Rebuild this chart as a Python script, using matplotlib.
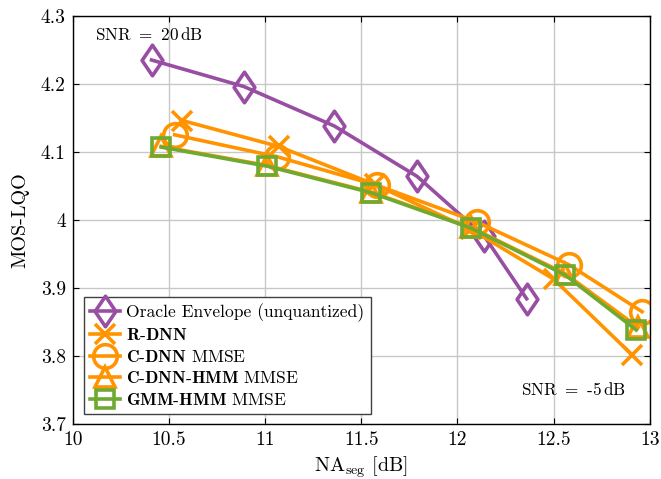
import numpy as np
import matplotlib.pyplot as plt
from matplotlib.path import Path

plt.rcParams['font.family'] = 'serif'
plt.rcParams['font.serif'] = ['cmr10']
plt.rcParams['mathtext.fontset'] = 'cm'
plt.rcParams['axes.formatter.use_mathtext'] = True

# data
oracle_x = [10.41, 10.89, 11.36, 11.79, 12.14, 12.36]
oracle_y = [4.235, 4.196, 4.138, 4.064, 3.976, 3.884]

rdnn_x = [10.57, 11.07, 11.57, 12.07, 12.50, 12.91]
rdnn_y = [4.146, 4.108, 4.052, 3.986, 3.913, 3.801]

cdnn_x = [10.53, 11.06, 11.58, 12.10, 12.58, 12.96]
cdnn_y = [4.125, 4.093, 4.051, 3.997, 3.934, 3.865]

cdnnhmm_x = [10.46, 11.01, 11.55, 12.07, 12.56, 12.94]
cdnnhmm_y = [4.108, 4.080, 4.041, 3.989, 3.921, 3.842]

gmm_x = [10.46, 11.01, 11.55, 12.07, 12.56, 12.93]
gmm_y = [4.107, 4.079, 4.040, 3.988, 3.919, 3.838]

purple = '#984ea3'
orange = '#ff9400'
green = '#6eaa30'

# pgfplots style diamond (wider than matplotlib's thin diamond)
diamond = Path([(0, 1), (0.68, 0), (0, -1), (-0.68, 0), (0, 1)],
               [Path.MOVETO, Path.LINETO, Path.LINETO, Path.LINETO, Path.CLOSEPOLY])

fig = plt.figure(figsize=(6.61, 4.79), dpi=100)
ax = fig.add_axes([0.110, 0.115, 0.873, 0.852])

lw = 2.6
ax.plot(oracle_x, oracle_y, color=purple, lw=lw, marker=diamond, ms=22, mfc='none', mew=2.6,
        label='Oracle Envelope (unquantized)')
ax.plot(rdnn_x, rdnn_y, color=orange, lw=lw, marker='x', ms=14, mew=2.6,
        label=r'$\mathbf{R}$-$\mathbf{DNN}$')
ax.plot(cdnn_x, cdnn_y, color=orange, lw=lw, marker='o', ms=17, mfc='none', mew=2.6,
        label=r'$\mathbf{C}$-$\mathbf{DNN}$ MMSE')
ax.plot(cdnnhmm_x, cdnnhmm_y, color=orange, lw=lw, marker='^', ms=14, mfc='none', mew=2.6,
        label=r'$\mathbf{C}$-$\mathbf{DNN}$-$\mathbf{HMM}$ MMSE')
ax.plot(gmm_x, gmm_y, color=green, lw=lw, marker='s', ms=13, mfc='none', mew=2.6,
        label=r'$\mathbf{GMM}$-$\mathbf{HMM}$ MMSE')

ax.set_xlim(10, 13)
ax.set_ylim(3.7, 4.3)
ax.set_xticks([10, 10.5, 11, 11.5, 12, 12.5, 13])
ax.set_xticklabels(['10', '10.5', '11', '11.5', '12', '12.5', '13'])
ax.set_yticks([3.7, 3.8, 3.9, 4.0, 4.1, 4.2, 4.3])
ax.set_yticklabels(['3.7', '3.8', '3.9', '4', '4.1', '4.2', '4.3'])
ax.tick_params(direction='in', top=True, right=True, labelsize=14, length=4, pad=5)
ax.grid(True, color='#c8c8c8', lw=1)
ax.set_axisbelow(True)
for s in ax.spines.values():
    s.set_linewidth(1)

ax.set_xlabel(r'NA$_{\mathregular{seg}}$ [dB]', fontsize=14.5, labelpad=4)
ax.set_ylabel('MOS-LQO', fontsize=14.5, labelpad=8)

ax.text(0.038, 0.955, r'SNR $=$ 20$\,$dB', transform=ax.transAxes, fontsize=12.3, va='center')
ax.text(0.776, 0.085, r'SNR $=$ -5$\,$dB', transform=ax.transAxes, fontsize=12.3, va='center')

leg = ax.legend(loc='lower left', bbox_to_anchor=(0.02, 0.024), fontsize=12.6,
                handlelength=1.7, handletextpad=0.35, borderpad=0.35, labelspacing=0.32,
                fancybox=False, framealpha=1, edgecolor='#404040', borderaxespad=0)
leg.get_frame().set_linewidth(1)

fig.savefig('out.png', dpi=100)
